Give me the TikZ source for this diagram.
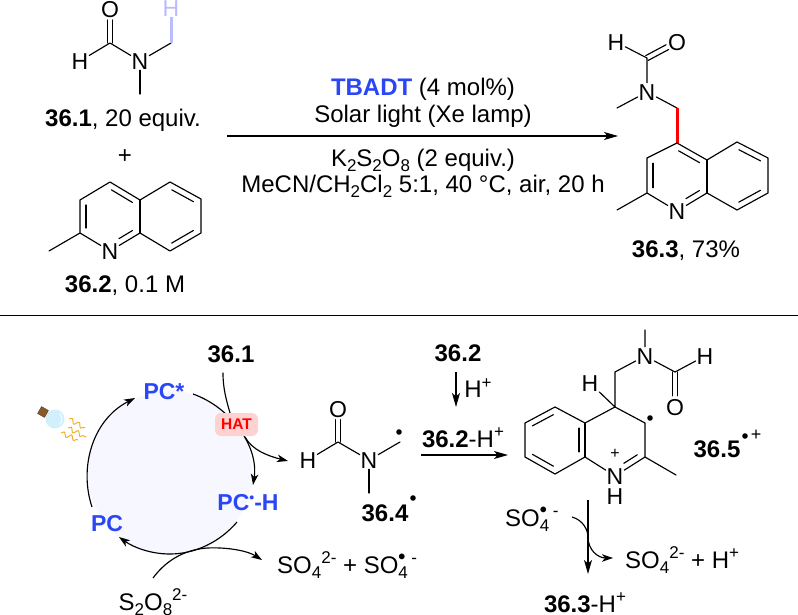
\documentclass[tikz,border=0pt]{standalone}
\usepackage{fontspec}
\setmainfont{Liberation Sans}
\usetikzlibrary{calc,arrows.meta,decorations.pathmorphing}
\definecolor{pcblue}{HTML}{2A46F5}
\definecolor{hlblue}{HTML}{B9BCFF}
\definecolor{lav}{HTML}{F7F7FF}
\definecolor{hatbg}{HTML}{FFD2D2}
\definecolor{wave}{HTML}{EFA91E}
\newcommand{\myup}[1]{\raisebox{.4em}{\fontsize{17}{18}\selectfont #1}}
\newcommand{\mydn}[1]{\raisebox{-.22em}{\fontsize{17}{18}\selectfont #1}}
\newcommand{\mybul}{\raisebox{.42em}{\fontsize{20}{18}\selectfont\textbf{•}}}
\newcommand{\dbl}[5]{\draw[bond] ($(#1)!#3!(#2)!#5!90:(#2)$) -- ($(#2)!#4!(#1)!-#5!90:(#1)$);}
\newcommand{\dco}[2]{\draw[bond] ($(#1)!2.7pt!90:(#2)$) -- ($(#2)!.32!(#1)!-2.7pt!90:(#1)$);\draw[bond] ($(#1)!-2.7pt!90:(#2)$) -- ($(#2)!.32!(#1)!2.7pt!90:(#1)$);}
\tikzset{
  bond/.style={line width=1.15pt,black,line cap=round,line join=round},
  atom/.style={font=\fontsize{23}{24}\selectfont,inner sep=.8pt,text height=16.5pt,text depth=0pt,minimum size=0pt},
  txt/.style={font=\fontsize{24}{26}\selectfont,inner sep=0pt,align=center},
  pctxt/.style={txt,font=\fontsize{23}{24}\selectfont\bfseries,text=pcblue},
  arr/.style={line width=1.15pt,-{Stealth[length=14pt,width=8pt,inset=3.5pt]}},
  cyc/.style={line width=1.15pt,-{Stealth[length=11pt,width=7.5pt,inset=3pt]}},
}
\begin{document}
\begin{tikzpicture}[x=1pt,y=-1pt]
\useasboundingbox (0,0) rectangle (798,615);
% ---- 36.1
\node[atom] (aO) at (110,9) {O};
\coordinate (aC) at (110,43);
\node[atom] (aH) at (80,61) {H};
\node[atom] (aN) at (140,61) {N};
\coordinate (aCH) at (171,43);
\coordinate (aMe) at (140,94);
\node[atom,text=hlblue] (aHH) at (171,8) {H};
\draw[bond] (aH) -- (aC) -- (aN) -- (aCH);
\dco{aC}{aO}
\draw[bond] (aN) -- (aMe);
\draw[line width=3pt,hlblue] (aCH) -- (aHH);
\node[txt] (l361) at (123,120.5) {\textbf{36.1}, 20 equiv.};
\node[txt] (plus) at (125,157) {+};
% ---- 36.2
\coordinate (b3) at (80,200);
\coordinate (b4) at (110,182);
\coordinate (b4a) at (140,200);
\coordinate (b5) at (170,182);
\coordinate (b6) at (201,199);
\coordinate (b7) at (201,233);
\coordinate (b8) at (170,251);
\coordinate (b8a) at (140,233);
\node[atom] (bN) at (110,251) {N};
\coordinate (b2) at (80,233);
\coordinate (bMe) at (49,251);
\draw[bond] (bMe) -- (b2) -- (b3) -- (b4) -- (b4a) -- (b5) -- (b6) -- (b7) -- (b8) -- (b8a) -- (bN) -- (b2);
\draw[bond] (b4a) -- (b8a);
\dbl{b3}{b2}{.15}{.15}{6pt}
\dbl{b4}{b4a}{.15}{.15}{-6pt}
\dbl{b8a}{bN}{.15}{.4}{-6pt}
\dbl{b5}{b6}{.15}{.15}{-6pt}
\dbl{b7}{b8}{.15}{.15}{-6pt}
\node[txt] (l362) at (125,286) {\textbf{36.2}, 0.1 M};
% ---- conditions
\coordinate (rs) at (227,136);
\coordinate (re) at (618,136);
\draw[arr] (rs) -- (re);
\node[txt] (c1) at (423,89.5) {\textcolor{pcblue}{\textbf{TBADT}} (4 mol\%)};
\node[txt] (c2) at (423,116) {Solar light (Xe lamp)};
\node[txt] (c3) at (423,160.5) {K\mydn{2}S\mydn{2}O\mydn{8} (2 equiv.)};
\node[txt] (c4) at (423,186.5) {MeCN/CH\mydn{2}Cl\mydn{2} 5:1, 40 °C, air, 20 h};
% ---- 36.3
\node[atom] (pH) at (616,42) {H};
\coordinate (pC) at (647,58);
\node[atom] (pO) at (677,42) {O};
\node[atom] (pN) at (647,92) {N};
\coordinate (pMe) at (617,108);
\coordinate (pCH) at (677,108);
\coordinate (p4) at (677,143);
\coordinate (p3) at (647,158);
\coordinate (p4a) at (707,160);
\coordinate (p5) at (737,142);
\coordinate (p6) at (768,158);
\coordinate (p7) at (768,193);
\coordinate (p8) at (737,210);
\coordinate (p8a) at (707,193);
\node[atom] (pNN) at (677,211) {N};
\coordinate (p2) at (647,193);
\coordinate (pMe2) at (617,210);
\draw[bond] (pH) -- (pC) -- (pN) -- (pMe);
\dco{pC}{pO}
\draw[bond] (pN) -- (pCH);
\draw[line width=3pt,red] (pCH) -- (p4);
\draw[bond] (pMe2) -- (p2) -- (p3) -- (p4) -- (p4a) -- (p5) -- (p6) -- (p7) -- (p8) -- (p8a) -- (pNN) -- (p2);
\draw[bond] (p4a) -- (p8a);
\dbl{p3}{p2}{.15}{.15}{6pt}
\dbl{p4}{p4a}{.15}{.15}{-6pt}
\dbl{p8a}{pNN}{.15}{.4}{-6pt}
\dbl{p5}{p6}{.15}{.15}{-6pt}
\dbl{p7}{p8}{.15}{.15}{-6pt}
\node[txt] (l363) at (686,250.5) {\textbf{36.3}, 73\%};
% ---- separator
\coordinate (sl) at (0,315);
\coordinate (sr) at (798,315);
\draw[line width=.9pt] (sl) -- (sr);
% ---- cycle
\coordinate (cc) at (170,473);
\fill[lav] (cc) circle (82);
\node[pctxt] (pcs) at (164,392) {PC*};
\node[pctxt] (pc) at (107,524) {PC};
\node[pctxt] (pch) at (248,503) {PC\raisebox{.38em}{\fontsize{14}{14}\selectfont •}-H};
\coordinate (c1s) at (92,507);
\coordinate (c1e) at (135,398);
\draw[cyc] (c1s) .. controls (79,468) and (92,420) .. (c1e);
\coordinate (c2s) at (193,394);
\coordinate (c2e) at (253,485);
\draw[cyc] (c2s) .. controls (230,407) and (259,446) .. (c2e);
\coordinate (c3s) at (237,522);
\coordinate (c3m) at (170,554);
\coordinate (c3e) at (119,537);
\draw[cyc] (c3s) .. controls (220,542) and (195,554) .. (c3m) .. controls (150,554) and (133,547) .. (c3e);
\node[txt] (s2o8) at (153,602) {S\mydn{2}O\mydn{8}\myup{2-}};
\coordinate (sos) at (153,578);
\coordinate (som) at (207,548);
\coordinate (soe) at (262,560);
\draw[cyc] (sos) .. controls (165,562) and (182,550) .. (som) .. controls (228,547) and (248,551) .. (soe);
\coordinate (ins) at (223,373);
\coordinate (inm) at (245,437);
\coordinate (inh) at (230,413);
\draw[bond] (ins) .. controls (223,390) and (227,402) .. (inh);
\node[txt] (n361) at (231,354) {\textbf{36.1}};
\node[fill=hatbg,rounded corners=6pt,minimum width=43pt,minimum height=23pt,inner sep=0pt,font=\fontsize{15.5}{16}\selectfont\bfseries,text=red] (hat) at (236.5,424.5) {HAT};
\coordinate (oute) at (288,461);
\draw[cyc] (inm) .. controls (252,450) and (268,456) .. (oute);
% ---- bulb
\node[circle,fill=cyan!18,minimum size=19pt,inner sep=0pt] (bulb) at (55,419) {};
\draw[white,line width=.8pt] (55,419) ++(-50:7) arc (-50:50:7);
\node[fill=brown!70!black,draw=brown!50!black,rotate=-30,minimum size=8pt,inner sep=0pt] (cap) at (43,412) {};
\begin{scope}[wave,line width=.9pt,decoration={snake,amplitude=2.2pt,segment length=8pt}]
\draw[decorate] (69,419) -- (85,428);
\draw[decorate] (68,428) -- (86,437);
\draw[decorate] (61,433) -- (78,440);
\end{scope}
% ---- 36.4 radical
\node[atom] (rO) at (338,409) {O};
\coordinate (rC) at (338,442);
\node[atom] (rH) at (308,460) {H};
\node[atom] (rN) at (369,460) {N};
\coordinate (rCH) at (400,442);
\coordinate (rMe) at (369,493);
\draw[bond] (rH) -- (rC) -- (rN) -- (rCH);
\dco{rC}{rO}
\draw[bond] (rN) -- (rMe);
\fill (399,432) circle (2.8);
\node[txt] (l364) at (385,513) {\textbf{36.4}};
\fill (413,498) circle (2.8);
\node[txt,anchor=west] (so4a) at (277,565) {SO\mydn{4}\myup{2-} + SO\rlap{\mydn{4}}\mybul\hspace{6pt}\myup{-}};
% ---- 36.2 -> H+
\node[txt] (n362) at (458,353) {\textbf{36.2}};
\coordinate (v0) at (456,372);
\coordinate (v1) at (456,407);
\draw[arr] (v0) -- (v1);
\node[txt] (hp) at (478,388) {H\myup{+}};
\node[txt] (n362h) at (463,438) {\textbf{36.2}-H\myup{+}};
\coordinate (h1) at (421,455);
\coordinate (h2) at (508,455);
\draw[arr] (h1) -- (h2);
% ---- 36.5
\coordinate (d4) at (615,407);
\coordinate (dCH) at (615,372);
\node[atom] (dN) at (645,356) {N};
\coordinate (dMe) at (645,330);
\coordinate (dC) at (675,372);
\node[atom] (dH) at (705,356) {H};
\node[atom] (dO) at (675,407) {O};
\node[atom] (dHH) at (590,383) {H};
\coordinate (d3) at (645,423);
\coordinate (d2) at (645,457);
\coordinate (dMe2) at (676,475);
\node[atom] (dNN) at (615,476) {N};
\node[atom] (dNH) at (615,496) {H};
\coordinate (d8a) at (585,457);
\coordinate (d4a) at (585,423);
\coordinate (d5) at (555,407);
\coordinate (d6) at (525,423);
\coordinate (d7) at (525,457);
\coordinate (d8) at (555,474);
\draw[bond] (dMe) -- (dN) -- (dCH) -- (d4) -- (dHH);
\draw[bond] (dN) -- (dC) -- (dH);
\dco{dC}{dO}
\draw[bond] (d4) -- (d3) -- (d2) -- (dMe2);
\draw[bond] (d2) -- (dNN) -- (d8a) -- (d8) -- (d7) -- (d6) -- (d5) -- (d4a) -- (d4);
\draw[bond] (d4a) -- (d8a);
\dbl{d4a}{d8a}{.15}{.15}{-6pt}
\dbl{d5}{d6}{.15}{.15}{6pt}
\dbl{d7}{d8}{.15}{.15}{6pt}
\dbl{d2}{dNN}{.15}{.4}{-6pt}
\node[font=\fontsize{16}{16}\selectfont,inner sep=0pt] (dplus) at (615,454) {+};
\fill (650,418) circle (2.8);
\node[txt] (l365) at (717,449) {\textbf{36.5}};
\fill (745,436) circle (2.8);
\node[font=\fontsize{18}{18}\selectfont,inner sep=0pt] (l365p) at (756,435) {+};
\node[txt,anchor=west] (so4b) at (505,519) {SO\rlap{\mydn{4}}\mybul\hspace{6pt}\myup{-}};
\coordinate (w1) at (588,500);
\coordinate (w2) at (588,574);
\draw[arr] (w1) -- (w2);
\coordinate (y1) at (572,517);
\coordinate (ym) at (588,537);
\coordinate (y2) at (613,558);
\draw[cyc] (y1) .. controls (583,520) and (588,530) .. (ym) .. controls (588,550) and (598,558) .. (y2);
\node[txt,anchor=west] (so4c) at (625,560) {SO\mydn{4}\myup{2-} + H\myup{+}};
\node[txt] (n363h) at (585,603) {\textbf{36.3}-H\myup{+}};
\end{tikzpicture}
\end{document}
